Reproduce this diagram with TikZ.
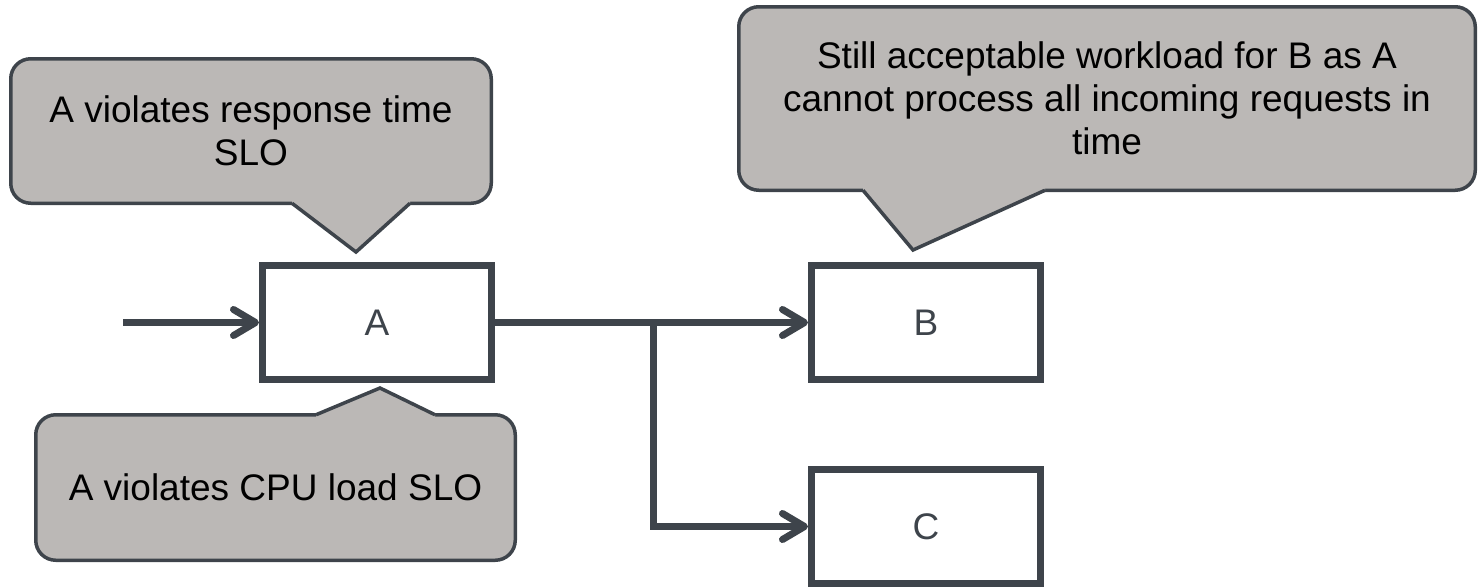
\documentclass[tikz,border=0pt]{standalone}
\usepackage{fontspec}
\setmainfont{Liberation Sans}
\usetikzlibrary{arrows.meta}

\definecolor{ink}{RGB}{62,68,75}
\definecolor{notefill}{RGB}{187,184,182}

\tikzset{
  stagebox/.style={draw=ink, line width=7pt, fill=white, inner sep=0pt,
    minimum width=229pt, minimum height=114pt, text=ink,
    font=\fontsize{37}{43}\selectfont},
  notebox/.style={draw=ink, line width=3.5pt, fill=notefill, rounded corners=20pt,
    inner sep=0pt, align=center, text=black,
    font=\fontsize{37}{43}\selectfont},
  notetipfill/.style={fill=notefill},
  notetipline/.style={draw=ink, line width=3.5pt, line join=miter},
  flow/.style={draw=ink, line width=7pt},
  flowarrow/.style={flow, -{Straight Barb[length=22pt, width=26pt, round]}}
}

\begin{document}
\begin{tikzpicture}[x=1pt, y=-1pt]
  \useasboundingbox (0,0) rectangle (1479,587);

  % processing stages
  \node[stagebox] (A) at (377,322.5) {A};
  \node[stagebox] (B) at (926,322.5) {B};
  \node[stagebox] (C) at (926,526.5) {C};

  % request flow
  \coordinate (in) at (123,322.5);
  \coordinate (split) at (653,322.5);
  \draw[flowarrow] (in) -- (A.west);
  \draw[flowarrow] (A.east) -- (B.west);
  \draw[flowarrow] (split) |- (C.west);

  % annotation for A: response time
  \node[notebox, minimum width=480.5pt, minimum height=144.5pt] (noteRT) at (251,131)
    {A violates response time\\SLO};
  \fill[notetipfill] (292,201) -- (410,201) -- (410,203.25) -- (356,252) -- (292,203.25) -- cycle;
  \draw[notetipline] (292,203.25) -- (356,252) -- (410,203.25);

  % annotation for A: CPU load
  \node[notebox, minimum width=479.5pt, minimum height=145.5pt] (noteCPU) at (275.5,487.5)
    {A violates CPU load SLO};
  \fill[notetipfill] (316,417) -- (435,417) -- (435,414.75) -- (380,388) -- (316,414.75) -- cycle;
  \draw[notetipline] (316,414.75) -- (380,388) -- (435,414.75);

  % annotation for B
  \node[notebox, minimum width=736.5pt, minimum height=183.5pt] (noteB) at (1107,98.5)
    {Still acceptable workload for B as A\\cannot process all incoming requests in\\time};
  \fill[notetipfill] (863,188) -- (1045,188) -- (1045,190.25) -- (913,250) -- (863,190.25) -- cycle;
  \draw[notetipline] (863,190.25) -- (913,250) -- (1045,190.25);
\end{tikzpicture}
\end{document}
